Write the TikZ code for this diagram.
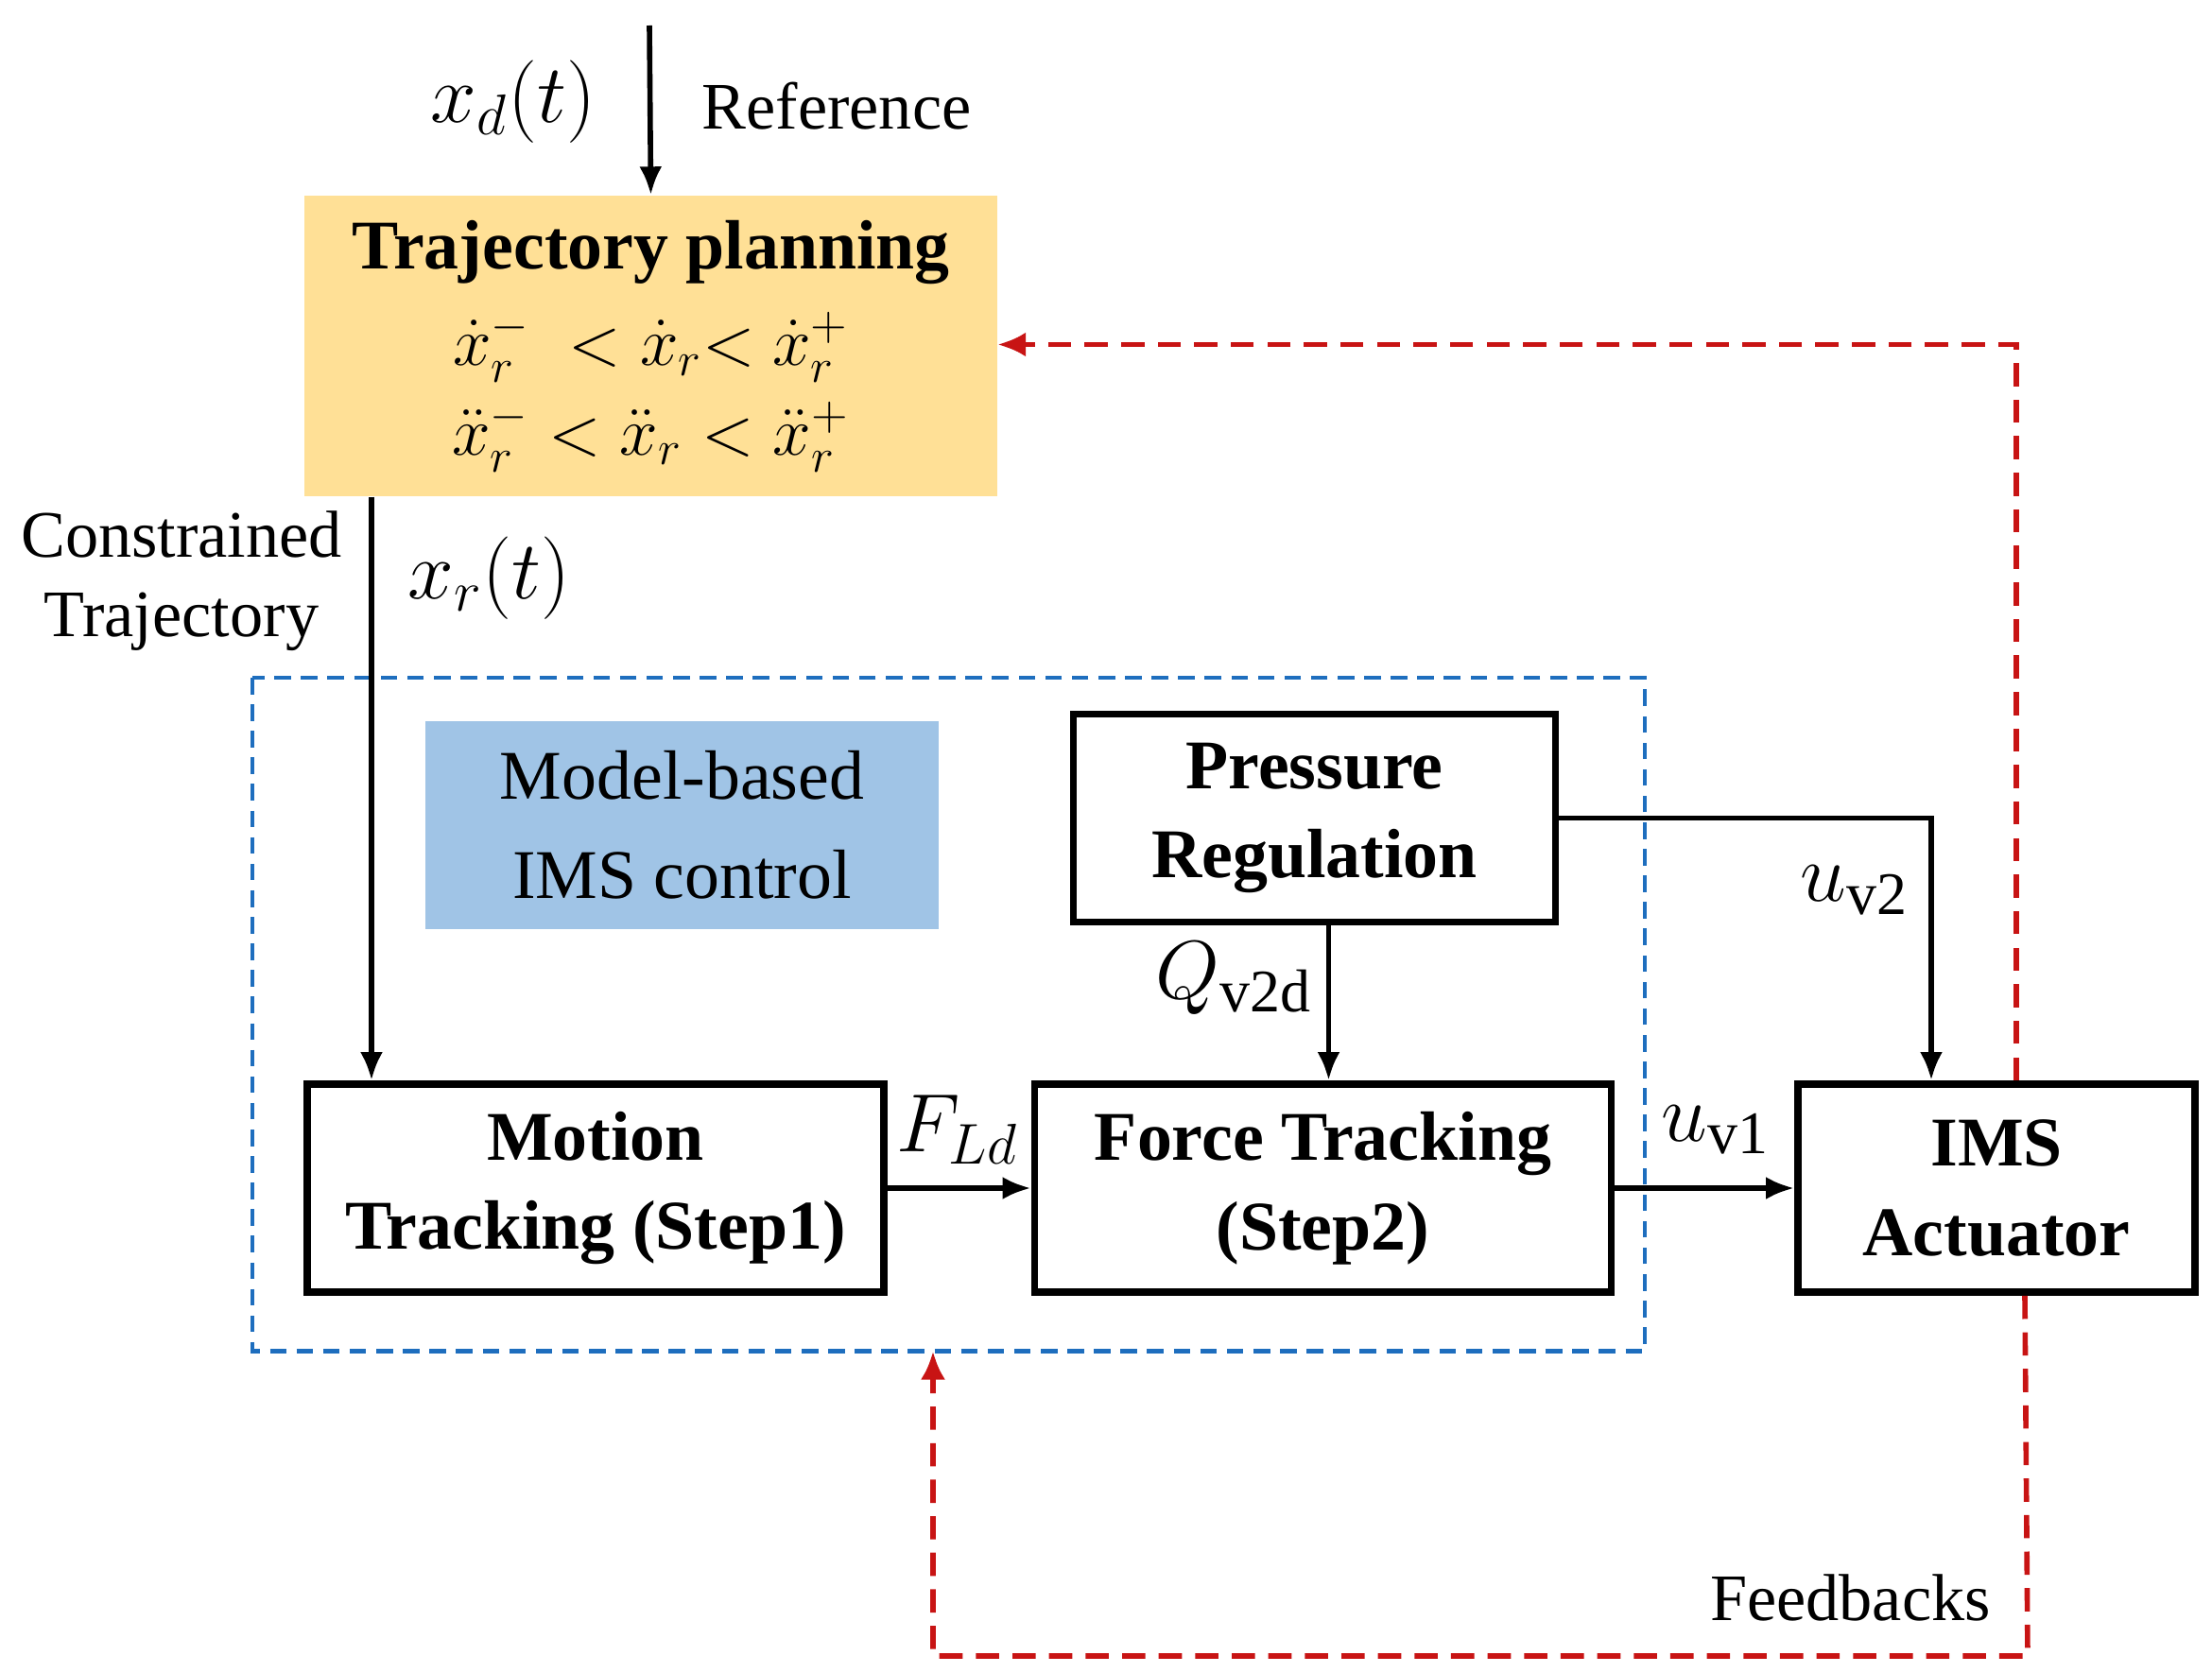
\documentclass[tikz,border=0pt]{standalone}
\usepackage{fontspec}
\usepackage{amsmath}
\setmainfont{Liberation Serif}
\usetikzlibrary{arrows.meta}
\definecolor{trajyellow}{RGB}{255,224,150}
\definecolor{ctrlblue}{RGB}{160,196,230}
\definecolor{dashblue}{RGB}{30,110,190}
\definecolor{fbred}{RGB}{200,20,20}
\begin{document}
\begin{tikzpicture}[x=0.015cm, y=-0.015cm,
  blk/.style={draw, line width=2.2pt, minimum width=#1, minimum height=2.2cm,
    align=center, font=\fontsize{21}{27}\selectfont\bfseries},
  sig/.style={line width=1.6pt, -{Latex[length=3mm,width=2.4mm]}},
  fb/.style={draw=fbred, line width=1.6pt, dash pattern=on 7pt off 4pt,
    -{Latex[length=3mm,width=2.6mm]}},
  lbl/.style={font=\fontsize{20}{24}\selectfont, align=center},
  mlbl/.style={font=\fontsize{26}{30}\selectfont},
  ]
  \useasboundingbox (0,0) rectangle (1560,1180);
  % planning block
  \node[fill=trajyellow, minimum width=7.32cm, minimum height=3.18cm,
    align=center, font=\fontsize{21}{27}\selectfont] (plan) at (459,244)
    {\textbf{Trajectory planning}\\[2pt]
     $\dot{x}_r^- \; < \dot{x}_r {<}\ \dot{x}_r^+$\\
     $\ddot{x}_r^- < \ddot{x}_r < \ddot{x}_r^+$};
  \coordinate (ref) at (458,18);
  \draw[sig] (ref) -- (plan.north);
  \node[mlbl] (xd) at (362,72) {$x_d(t)$};
  \node[lbl] (reftxt) at (590,75) {Reference};
  % controller region
  \draw[draw=dashblue, line width=1.4pt, dash pattern=on 5pt off 3pt]
    (178,478) rectangle (1160,953);
  \node[fill=ctrlblue, minimum width=5.43cm, minimum height=2.2cm,
    lbl, font=\fontsize{21}{30}\selectfont] (ctrl) at (481,582) {Model-based\\IMS control};
  \node[blk=5.1cm] (press) at (927,577) {Pressure\\Regulation};
  \node[blk=6.1cm] (motion) at (420,838) {Motion\\Tracking (Step1)};
  \node[blk=6.1cm] (force) at (933,838) {Force Tracking\\(Step2)};
  \node[blk=4.2cm] (ims) at (1408,838) {IMS\\Actuator};
  % signals
  \draw[sig] (plan.south -| 262,0) -- (motion.north -| 262,0);
  \node[lbl] (constr) at (128,410) {Constrained\\Trajectory};
  \node[mlbl] (xr) at (345,408) {$x_r(t)$};
  \draw[sig] (motion) -- (force);
  \node[mlbl] (fld) at (675,797) {$F_{Ld}$};
  \draw[sig] (press.south -| 937,0) -- (force.north -| 937,0);
  \node[mlbl] (qv) at (870,690) {$Q_{\mathrm{v2d}}$};
  \draw[sig] (press.east |- 0,577) -| (ims.north -| 1362,0);
  \node[mlbl] (uv2) at (1308,628) {$u_{\mathrm{v2}}$};
  \draw[sig] (force) -- (ims);
  \node[mlbl] (uv1) at (1210,797) {$u_{\mathrm{v1}}$};
  % feedbacks
  \draw[fb] (ims.north -| 1422,0) -- (1422,243) -- (plan.east |- 0,243);
  \draw[fb] (ims.south -| 1428,0) -- (1430,1168) -- (658,1168) -- (658,953);
  \node[lbl] (fbtxt) at (1305,1127) {Feedbacks};
\end{tikzpicture}
\end{document}
